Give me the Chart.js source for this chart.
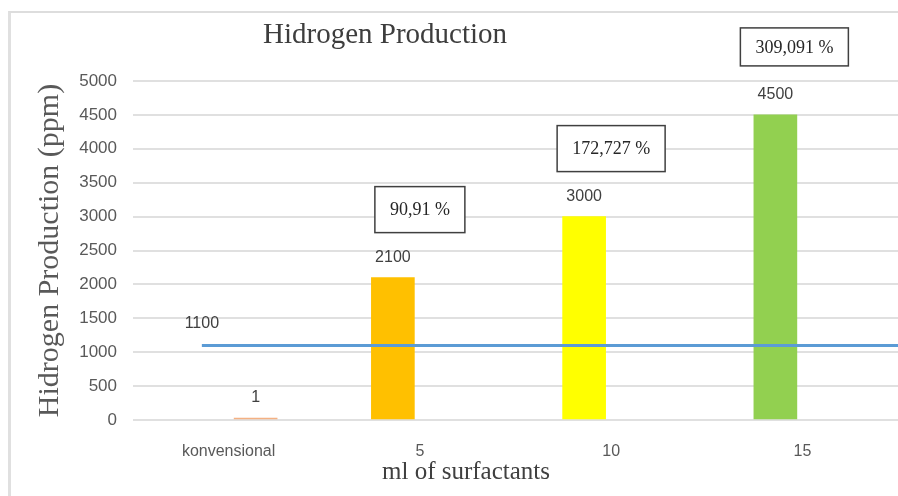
<!DOCTYPE html>
<html>
<head>
<meta charset="utf-8">
<title>Hidrogen Production</title>
<script src="https://cdn.jsdelivr.net/npm/chart.js@4/dist/chart.umd.min.js"></script>
<style>
  html, body { margin: 0; padding: 0; background: #ffffff; overflow: hidden; }
  #wrap { position: relative; width: 898px; height: 496px; overflow: hidden; }
  #frame {
    position: absolute; left: 8px; top: 11px; width: 920px; height: 520px;
    border-left: 3px solid #e0e0e0; border-top: 2px solid #dddddd;
  }
  #c { position: absolute; left: 0; top: 0; display: block; }
</style>
</head>
<body>
<div id="wrap">
  <div id="frame"></div>
  <canvas id="c" width="898" height="496"></canvas>
</div>
<script>
// Hydrogen yield per surfactant dose, with the conventional run as reference
const categories = ['konvensional', '5', '10', '15'];
const conventionalValues = [1, null, null, null];
const surfactantValues = [null, 2100, 3000, 4500];
const baselineValue = 1100;
const increaseLabels = [null, '90,91 %', '172,727 %', '309,091 %'];
const barColors = ['#FFC000', '#FFC000', '#FFFF00', '#92D050'];
const yMin = 0, yMax = 5000, yStep = 500;

const chartTitle = 'Hidrogen Production';
const yTitle = 'Hidrogen Production (ppm)';
const xTitle = 'ml of surfactants';

// each group holds two slots; bars are narrower than their slot
const SLOT_WIDTH = 54;
const BAR_WIDTH = 43;
// reference line starts at the first slot of the first group (in category units)
const lineStart = -0.14;
const lineEnd = categories.length - 0.5;

const SANS = "'Liberation Sans', Arial, sans-serif";
const SERIF = "'Liberation Serif', 'Times New Roman', serif";

// value labels above bars and the reference line
const valueLabels = {
  id: 'valueLabels',
  afterDatasetsDraw(chart) {
    const ctx = chart.ctx;
    ctx.save();
    ctx.font = '16px ' + SANS;
    ctx.fillStyle = '#404040';
    ctx.textAlign = 'center';
    ctx.textBaseline = 'middle';
    chart.data.datasets.forEach((ds, di) => {
      const meta = chart.getDatasetMeta(di);
      if (ds.type === 'line') {
        const p = meta.data[0];
        ctx.fillText(String(ds.data[0].y), p.x, p.y - 22);
        return;
      }
      meta.data.forEach((el, i) => {
        const v = ds.data[i];
        if (v === null || v === undefined) return;
        ctx.fillText(String(v), el.x, el.y - 20);
      });
    });
    ctx.restore();
  }
};

// boxed percentage increase notes above each surfactant bar
const increaseBoxes = {
  id: 'increaseBoxes',
  afterDatasetsDraw(chart) {
    const ctx = chart.ctx;
    const xs = chart.scales.x;
    const ys = chart.scales.y;
    ctx.save();
    ctx.font = '18px ' + SERIF;
    ctx.textAlign = 'center';
    ctx.textBaseline = 'middle';
    increaseLabels.forEach((txt, i) => {
      if (!txt) return;
      const cx = xs.getPixelForValue(i) - (i === categories.length - 1 ? 8 : 0);
      const cy = ys.getPixelForValue(surfactantValues[i]) - 68;
      const w = ctx.measureText(txt).width + 30;
      const h = i === categories.length - 1 ? 38 : 46;
      ctx.fillStyle = '#ffffff';
      ctx.fillRect(cx - w / 2, cy - h / 2, w, h);
      ctx.strokeStyle = '#404040';
      ctx.lineWidth = 1.5;
      ctx.strokeRect(cx - w / 2, cy - h / 2, w, h);
      ctx.fillStyle = '#262626';
      ctx.fillText(txt, cx, cy + 1);
    });
    ctx.restore();
  }
};

// chart title and category-axis title
const titles = {
  id: 'titles',
  afterDraw(chart) {
    const ctx = chart.ctx;
    ctx.save();
    ctx.textAlign = 'center';
    ctx.textBaseline = 'alphabetic';
    ctx.fillStyle = '#3d3d3d';
    ctx.font = '29px ' + SERIF;
    ctx.fillText(chartTitle, 385, 43);
    ctx.fillStyle = '#404040';
    ctx.font = '25px ' + SERIF;
    ctx.fillText(xTitle, 466, 479);
    ctx.restore();
  }
};

new Chart(document.getElementById('c'), {
  data: {
    labels: categories,
    datasets: [
      {
        type: 'line',
        label: 'konvensional (1100 ppm)',
        data: [{ x: lineStart, y: baselineValue }, { x: lineEnd, y: baselineValue }],
        xAxisID: 'xl',
        borderColor: '#5B9BD5',
        borderWidth: 3,
        pointRadius: 0,
        order: 0
      },
      {
        type: 'bar',
        label: 'surfactant',
        data: surfactantValues,
        backgroundColor: barColors,
        barThickness: SLOT_WIDTH,
        maxBarThickness: BAR_WIDTH,
        order: 1
      },
      {
        type: 'bar',
        label: 'konvensional',
        data: conventionalValues,
        backgroundColor: '#F4B183',
        barThickness: SLOT_WIDTH,
        maxBarThickness: BAR_WIDTH,
        minBarLength: 2,
        order: 1
      }
    ]
  },
  options: {
    responsive: false,
    animation: false,
    devicePixelRatio: 1,
    layout: { padding: { left: 0, right: 0, top: 81, bottom: 0 } },
    plugins: {
      legend: { display: false },
      tooltip: { enabled: false },
      title: { display: false }
    },
    scales: {
      x: {
        type: 'category',
        grid: { display: false, drawTicks: false },
        border: { display: false },
        ticks: { font: { family: SANS, size: 16 }, color: '#595959', padding: 22 },
        afterFit(scale) { scale.height = 76; }
      },
      xl: {
        type: 'linear',
        display: false,
        min: -0.5,
        max: categories.length - 0.5
      },
      y: {
        min: yMin,
        max: yMax,
        grid: { color: '#e0e0e0', lineWidth: 2, drawTicks: false },
        border: { display: false },
        ticks: {
          stepSize: yStep,
          font: { family: SANS, size: 17 },
          color: '#595959',
          padding: 16,
          callback: (v) => String(v)
        },
        title: {
          display: true,
          text: yTitle,
          font: { family: SERIF, size: 30 },
          color: '#595959',
          padding: { top: 32, bottom: 0 }
        },
        afterFit(scale) { scale.width = 133; }
      }
    }
  },
  plugins: [valueLabels, increaseBoxes, titles]
});
</script>
</body>
</html>
